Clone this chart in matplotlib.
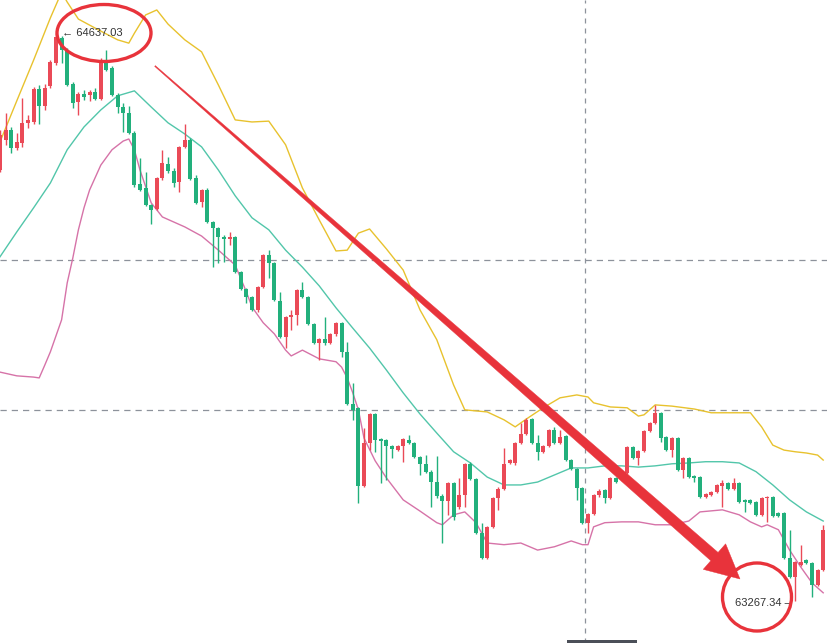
import numpy as np
import matplotlib
matplotlib.use("Agg")
import matplotlib.pyplot as plt
from matplotlib.patches import Ellipse, Polygon, Rectangle

# ---------------- data ----------------
opens = [64307, 64380, 64404, 64360, 64372, 64421, 64423, 64502, 64461, 64510,
         64565, 64625, 64596, 64515, 64471, 64490, 64488, 64495, 64478, 64572,
         64553, 64488, 64459, 64445, 64396, 64274, 64264, 64223, 64213, 64288,
         64322, 64305, 64278, 64363, 64380, 64288, 64230, 64259, 64182, 64167,
         64146, 64141, 64146, 64061, 64020, 64001, 63970, 64025, 64102, 64083,
         63992, 63905, 63953, 63958, 64018, 64001, 63936, 63890, 63900, 63890,
         63912, 63939, 63869, 63743, 63734, 63546, 63649, 63719, 63659, 63657,
         63642, 63632, 63642, 63657, 63649, 63616, 63599, 63580, 63555, 63522,
         63510, 63553, 63495, 63524, 63599, 63563, 63432, 63372, 63447, 63517,
         63538, 63601, 63601, 63649, 63671, 63707, 63649, 63628, 63642, 63681,
         63649, 63666, 63608, 63587, 63541, 63457, 63478, 63524, 63536, 63517,
         63565, 63560, 63577, 63640, 63613, 63630, 63678, 63698, 63722, 63664,
         63632, 63661, 63584, 63613, 63570, 63567, 63519, 63524, 63531, 63546,
         63553, 63538, 63553, 63512, 63512, 63507, 63476, 63517, 63519, 63481,
         63481, 63372, 63326, 63355, 63367, 63360, 63307, 63343]
highs = [64404, 64445, 64411, 64396, 64481, 64440, 64507, 64512, 64515, 64572,
         64637.03, 64630, 64601, 64519, 64495, 64500, 64500, 64505, 64577, 64596,
         64558, 64493, 64469, 64461, 64401, 64336, 64303, 64225, 64290, 64356,
         64339, 64312, 64365, 64418, 64384, 64295, 64261, 64264, 64184, 64170,
         64151, 64158, 64148, 64064, 64023, 64004, 64028, 64105, 64114, 64086,
         64013, 63955, 63970, 64020, 64037, 64004, 63939, 63902, 63953, 63914,
         63941, 63941, 63893, 63794, 63736, 63686, 63722, 63722, 63661, 63659,
         63644, 63644, 63661, 63669, 63652, 63618, 63620, 63584, 63618, 63526,
         63555, 63555, 63565, 63601, 63604, 63565, 63457, 63449, 63519, 63543,
         63637, 63611, 63652, 63698, 63710, 63710, 63669, 63644, 63683, 63688,
         63681, 63669, 63611, 63589, 63543, 63481, 63526, 63538, 63538, 63567,
         63567, 63580, 63642, 63642, 63632, 63681, 63700, 63741, 63724, 63666,
         63664, 63664, 63616, 63616, 63572, 63570, 63529, 63534, 63551, 63560,
         63555, 63565, 63555, 63514, 63514, 63510, 63519, 63522, 63522, 63483,
         63483, 63440, 63365, 63403, 63370, 63363, 63346, 63452]
lows = [64303, 64368, 64348, 64356, 64363, 64409, 64418, 64418, 64452, 64505,
        64560, 64565, 64510, 64457, 64440, 64476, 64474, 64476, 64476, 64546,
        64486, 64445, 64399, 64394, 64266, 64257, 64220, 64177, 64211, 64283,
        64300, 64266, 64254, 64360, 64283, 64225, 64218, 64180, 64073, 64083,
        64086, 64126, 64059, 64018, 63987, 63967, 63965, 64023, 64047, 63992,
        63902, 63878, 63922, 63934, 63999, 63934, 63888, 63849, 63886, 63888,
        63907, 63857, 63741, 63705, 63505, 63543, 63632, 63628, 63553, 63560,
        63613, 63630, 63604, 63647, 63613, 63572, 63577, 63495, 63517, 63408,
        63476, 63464, 63490, 63495, 63560, 63430, 63370, 63370, 63444, 63488,
        63536, 63599, 63596, 63647, 63669, 63647, 63608, 63625, 63640, 63647,
        63647, 63606, 63584, 63512, 63454, 63432, 63476, 63519, 63505, 63514,
        63553, 63558, 63575, 63611, 63596, 63628, 63676, 63695, 63652, 63630,
        63616, 63582, 63565, 63565, 63555, 63517, 63517, 63522, 63529, 63495,
        63536, 63536, 63505, 63483, 63502, 63473, 63473, 63459, 63471, 63471,
        63370, 63324, 63267.34, 63353, 63358, 63278, 63305, 63341]
closes = [64392, 64404, 64360, 64375, 64421, 64428, 64502, 64461, 64505, 64568,
          64628, 64596, 64512, 64469, 64490, 64483, 64495, 64478, 64572, 64548,
          64488, 64459, 64445, 64396, 64271, 64259, 64223, 64211, 64288, 64324,
          64305, 64276, 64363, 64380, 64286, 64228, 64259, 64182, 64167, 64146,
          64141, 64146, 64061, 64020, 64001, 63970, 64025, 64102, 64083, 63994,
          63905, 63953, 63958, 64018, 64001, 63936, 63890, 63900, 63890, 63912,
          63939, 63869, 63743, 63729, 63546, 63649, 63719, 63657, 63654, 63642,
          63635, 63642, 63659, 63649, 63616, 63599, 63580, 63555, 63522, 63510,
          63553, 63471, 63524, 63599, 63563, 63432, 63372, 63447, 63517, 63538,
          63599, 63608, 63649, 63671, 63705, 63649, 63628, 63642, 63681, 63649,
          63664, 63608, 63587, 63541, 63457, 63478, 63524, 63534, 63517, 63565,
          63555, 63577, 63640, 63613, 63630, 63678, 63698, 63722, 63661, 63632,
          63661, 63584, 63613, 63567, 63565, 63519, 63526, 63531, 63548, 63553,
          63538, 63553, 63507, 63507, 63505, 63476, 63517, 63519, 63473, 63473,
          63372, 63326, 63363, 63363, 63360, 63307, 63343, 63440]

upper_idx = [0, 3, 6, 9, 11, 12, 14, 18, 21, 23, 24, 26, 28, 30, 33, 36, 39, 42,
             45, 48, 51, 54, 57, 60, 62, 64, 66, 69, 72, 75, 78, 81, 83, 87, 90,
             92, 94, 97, 100, 103, 105, 106, 109, 112, 114, 115, 117, 120, 124,
             127, 130, 134, 136, 138, 140, 142, 144, 146, 147]
upper_band = [64375, 64474, 64572, 64674, 64736, 64712, 64671, 64642, 64621, 64613,
              64637, 64681, 64693, 64659, 64621, 64592, 64512, 64428, 64423, 64425,
              64368, 64264, 64187, 64112, 64114, 64155, 64165, 64117, 64066, 63970,
              63898, 63789, 63729, 63724, 63705, 63688, 63707, 63734, 63758, 63765,
              63760, 63746, 63736, 63734, 63714, 63717, 63741, 63738, 63731, 63722,
              63722, 63722, 63688, 63644, 63632, 63628, 63625, 63620, 63608]

mid_idx = list(range(0, 148, 3))
mid_band = [64098, 64158, 64216, 64276, 64356, 64411, 64452, 64486, 64498, 64459,
            64421, 64394, 64363, 64307, 64245, 64192, 64163, 64114, 64073, 64028,
            63975, 63926, 63878, 63825, 63770, 63719, 63673, 63628, 63601, 63567,
            63548, 63548, 63555, 63572, 63589, 63589, 63594, 63594, 63591, 63594,
            63599, 63601, 63604, 63604, 63601, 63580, 63548, 63512, 63483, 63461]

lower_idx = [0, 3, 6, 7, 8, 9, 11, 12, 13, 14, 15, 16, 18, 20, 22, 23, 24, 25, 27,
             29, 33, 36, 39, 42, 44, 45, 47, 49, 51, 52, 54, 57, 60, 61, 62, 63, 64,
             65, 67, 69, 72, 75, 78, 79, 81, 83, 85, 87, 90, 93, 96, 99, 102, 104,
             105, 106, 108, 111, 114, 117, 120, 123, 125, 129, 132, 134, 136, 137,
             139, 141, 143, 145, 147]
lower_band = [63820, 63811, 63808, 63806, 63837, 63869, 63946, 64035, 64095, 64163,
              64216, 64259, 64319, 64356, 64377, 64382, 64356, 64307, 64228, 64194,
              64170, 64148, 64114, 64078, 64013, 63977, 63939, 63912, 63873, 63859,
              63873, 63852, 63845, 63832, 63806, 63770, 63729, 63661, 63606, 63565,
              63512, 63485, 63457, 63452, 63476, 63483, 63457, 63408, 63404, 63408,
              63391, 63399, 63413, 63404, 63404, 63447, 63457, 63459, 63459, 63452,
              63452, 63461, 63483, 63488, 63476, 63459, 63447, 63452, 63440, 63391,
              63350, 63312, 63288]

grid_prices = [64090, 63729]
grid_time_index = 104.45

# ---------------- figure ----------------
W, H = 828, 643
STEP = 5.6  # pixels per candle
fig = plt.figure(figsize=(W / 100, H / 100), dpi=100)
ax = fig.add_axes([0, 0, 1, 1])
ax.set_xlim(0, W / STEP)
ax.set_ylim(63167, 64717)
ax.axis("off")
fig.patch.set_facecolor("white")

dash = (0, (5, 4))
for p in grid_prices:
    ax.axhline(p, color="#8d929b", lw=0.9, ls=dash, zorder=1)
ax.axvline(grid_time_index, color="#8d929b", lw=0.9, ls=(0, (4, 4)), zorder=1)

ax.plot(upper_idx, upper_band, color="#e8c22e", lw=1.0, zorder=2)
ax.plot(mid_idx, mid_band, color="#52c6aa", lw=1.0, zorder=2)
ax.plot(lower_idx, lower_band, color="#d673a8", lw=1.0, zorder=2)

UP = "#ea4a57"
DOWN = "#22b07c"
o = np.array(opens, float)
h = np.array(highs, float)
l = np.array(lows, float)
c = np.array(closes, float)
idx = np.arange(len(o))
cols = [UP if cc >= oo else DOWN for oo, cc in zip(o, c)]
ax.vlines(idx, l, h, colors=cols, lw=1.0, zorder=3)
body_h = np.maximum(np.abs(c - o), 2.6)
ax.bar(idx, body_h, bottom=np.minimum(o, c), width=0.72, color=cols,
       linewidth=0, zorder=4)

# ---------------- annotations ----------------
font = ["Liberation Sans", "DejaVu Sans"]
hi_i = int(np.argmax(h))
lo_i = int(np.argmin(l))
ax.annotate("\u2190 " + f"{h[hi_i]:.2f}", xy=(hi_i, h[hi_i]), xytext=(4.5, 0),
            textcoords="offset points", ha="left", va="center", fontsize=8,
            color="#333333", family=font, zorder=6)
ax.annotate(f"{l[lo_i]:.2f} \u2013", xy=(lo_i, l[lo_i]), xytext=(-3, -1.5),
            textcoords="offset points", ha="right", va="center", fontsize=8,
            color="#333333", family=font, zorder=6)


def px(x, y):
    return (x / W, 1 - y / H)


RED = "#e8333b"
ell = Ellipse(px(104, 33), 94 / W, 57 / H, transform=ax.transAxes, fill=False,
              edgecolor=RED, lw=2.4, zorder=7)
ax.add_patch(ell)
circ = Ellipse(px(757, 597), 69 / W, 68 / H, transform=ax.transAxes, fill=False,
               edgecolor=RED, lw=2.4, zorder=7)
ax.add_patch(circ)

S = np.array([155.0, 66.0])
T = np.array([740.0, 579.0])
d = (T - S) / np.linalg.norm(T - S)
n = np.array([-d[1], d[0]])
head_len, head_hw, w0, w1 = 34.0, 17.0, 1.0, 11.0
E = T - d * head_len
pts = [S + n * w0 / 2, E + n * w1 / 2, E + n * head_hw, T,
       E - n * head_hw, E - n * w1 / 2, S - n * w0 / 2]
arrow = Polygon([px(*p) for p in pts], closed=True, transform=ax.transAxes,
                facecolor=RED, edgecolor=RED, lw=0.3, zorder=8)
ax.add_patch(arrow)

ax.add_patch(Rectangle(px(567, 643), 70 / W, 3 / H, transform=ax.transAxes,
                       facecolor="#4b4f58", edgecolor="none", zorder=9))

fig.savefig("out.png", dpi=100, facecolor="white")
